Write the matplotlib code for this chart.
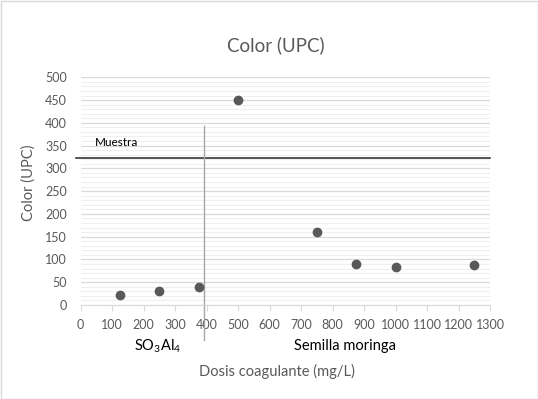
import matplotlib
matplotlib.use("Agg")
import matplotlib.pyplot as plt
from matplotlib.patches import Rectangle
from matplotlib.ticker import MultipleLocator

dose = [125, 250, 375, 500, 750, 875, 1000, 1250]
color_upc = [21, 30, 39, 451, 160, 90, 83, 88]
muestra = 323
divider = 390
x_ticks = list(range(0, 1301, 100))
y_ticks = list(range(0, 501, 50))

plt.rcParams['font.family'] = ['Lato', 'DejaVu Sans']
plt.rcParams['mathtext.fontset'] = 'custom'
plt.rcParams['mathtext.rm'] = 'Lato'
plt.rcParams['mathtext.it'] = 'Lato'

fig = plt.figure(figsize=(5.38, 3.99), dpi=100)
ax = fig.add_axes([0.15, 0.2356, 0.761, 0.5707])

ax.set_xlim(0, 1300)
ax.set_ylim(0, 500)
ax.set_xticks(x_ticks)
ax.set_yticks(y_ticks)
ax.yaxis.set_minor_locator(MultipleLocator(10))
ax.grid(which='major', axis='y', color='#d9d9d9', linewidth=0.9, zorder=0)
ax.grid(which='minor', axis='y', color='#efefef', linewidth=0.8, zorder=0)
ax.set_axisbelow(True)
for s in ['top', 'right', 'left']:
    ax.spines[s].set_visible(False)
ax.spines['bottom'].set_color('#d9d9d9')
ax.tick_params(axis='x', colors='#595959', labelsize=9, length=4, color='#d9d9d9', direction='out', pad=6)
ax.tick_params(axis='y', colors='#595959', labelsize=9, length=0, pad=10)
ax.tick_params(axis='y', which='minor', length=0)

ax.scatter(dose, color_upc, s=36, color='#595959', zorder=3, clip_on=False)

ax.plot([-15, 1300], [muestra, muestra], color='#262626', linewidth=1.1, clip_on=False, zorder=2)
ax.plot([divider, divider], [-77, 393], color='#a6a6a6', linewidth=1.0, clip_on=False, zorder=2)

ax.text(45, 356, 'Muestra', fontsize=8.5, color='black', va='center', ha='left')
ax.text(244, -91, 'SO$_3$Al$_4$', fontsize=10.5, color='black', va='center', ha='center')
ax.text(838, -91, 'Semilla moringa', fontsize=10.5, color='black', va='center', ha='center')

fig.text(275.5/538, 1 - 45/399, 'Color (UPC)', fontsize=13.5, color='#595959', ha='center', va='center')
fig.text(276.7/538, 1 - 371.7/399, 'Dosis coagulante (mg/L)', fontsize=10.5, color='#595959', ha='center', va='center')
fig.text(28.5/538, 1 - 183/399, 'Color (UPC)', fontsize=10.5, color='#595959', ha='center', va='center', rotation=90)

fig.patches.append(Rectangle((0.5/538, 0.5/399), 1 - 1/538, 1 - 1/399, transform=fig.transFigure,
                             fill=False, edgecolor='#d9d9d9', linewidth=1))

fig.savefig('out.png', dpi=100)
